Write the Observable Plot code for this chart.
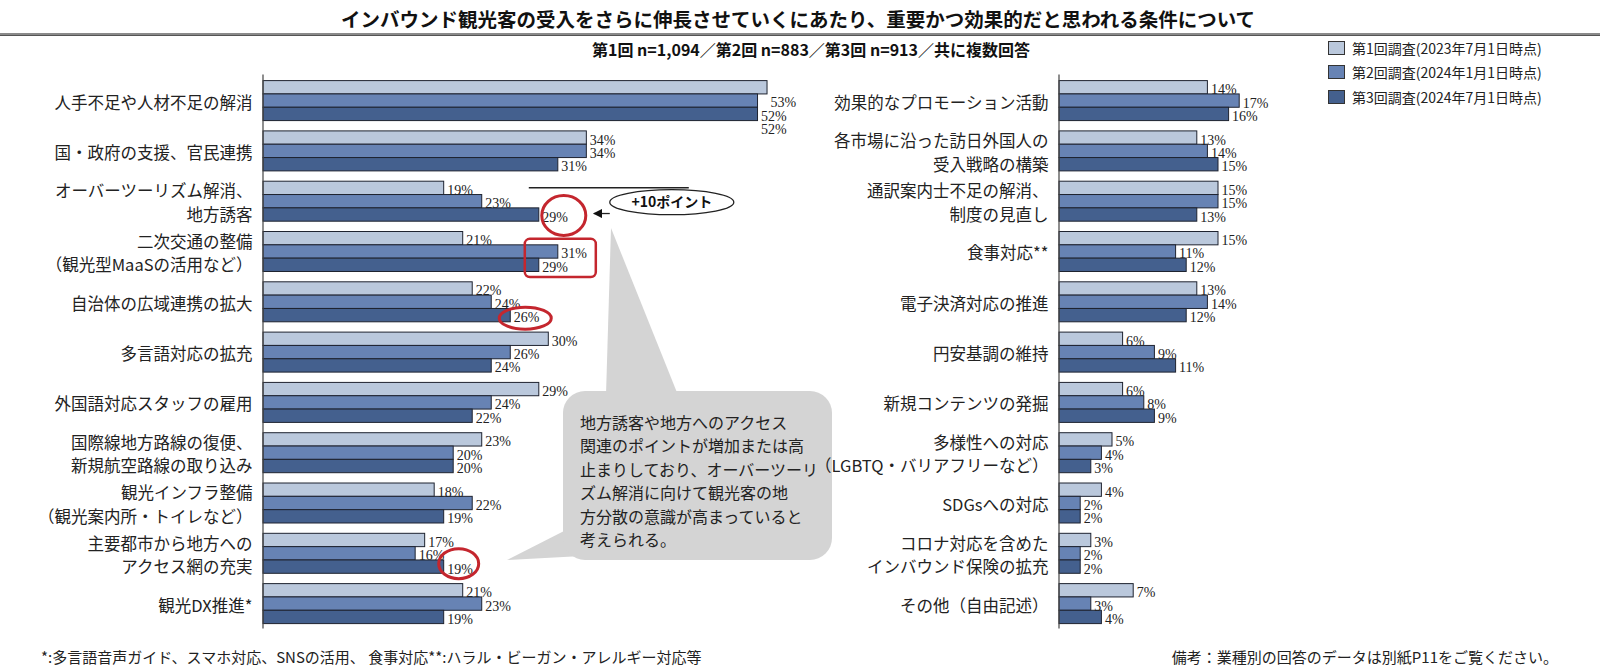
<!DOCTYPE html>
<html><head><meta charset="utf-8">
<script src="https://cdn.jsdelivr.net/npm/d3@7"></script>
<script src="https://cdn.jsdelivr.net/npm/@observablehq/plot@0.6"></script>
<style>
body{margin:0;background:#fff;font-family:"Noto Sans CJK JP",sans-serif;color:#222;}
#root{position:relative;width:1600px;height:667px;overflow:hidden;background:#fff;}
.abs{position:absolute;white-space:nowrap;}
.mid{transform:translateY(-50%);}
.ctr{transform:translate(-50%,-50%);}
#root svg{position:absolute;top:0;}
.sw{position:absolute;width:15px;height:12px;border:1.5px solid #333;}
</style></head><body><div id="root"></div>
<script>
// ---------------- data ----------------
const seriesNames = ["第1回調査(2023年7月1日時点)", "第2回調査(2024年1月1日時点)", "第3回調査(2024年7月1日時点)"];
const seriesColors = ["#bac8dc", "#6783b4", "#44608e"];

const leftCategories = [
  "人手不足や人材不足の解消",
  "国・政府の支援、官民連携",
  "オーバーツーリズム解消、\n地方誘客",
  "二次交通の整備\n（観光型MaaSの活用など）",
  "自治体の広域連携の拡大",
  "多言語対応の拡充",
  "外国語対応スタッフの雇用",
  "国際線地方路線の復便、\n新規航空路線の取り込み",
  "観光インフラ整備\n（観光案内所・トイレなど）",
  "主要都市から地方への\nアクセス網の充実",
  "観光DX推進*"
];
const leftRound1 = [53, 34, 19, 21, 22, 30, 29, 23, 18, 17, 21];
const leftRound2 = [52, 34, 23, 31, 24, 26, 24, 20, 22, 16, 23];
const leftRound3 = [52, 31, 29, 29, 26, 24, 22, 20, 19, 19, 19];

const rightCategories = [
  "効果的なプロモーション活動",
  "各市場に沿った訪日外国人の\n受入戦略の構築",
  "通訳案内士不足の解消、\n制度の見直し",
  "食事対応**",
  "電子決済対応の推進",
  "円安基調の維持",
  "新規コンテンツの発掘",
  "多様性への対応\n（LGBTQ・バリアフリーなど）",
  "SDGsへの対応",
  "コロナ対応を含めた\nインバウンド保険の拡充",
  "その他（自由記述）"
];
const rightRound1 = [14, 13, 15, 15, 13, 6, 6, 5, 4, 3, 7];
const rightRound2 = [17, 14, 15, 11, 14, 9, 8, 4, 2, 2, 3];
const rightRound3 = [16, 15, 13, 12, 12, 11, 9, 3, 2, 2, 4];

const titleText = "インバウンド観光客の受入をさらに伸長させていくにあたり、重要かつ効果的だと思われる条件について";
const subtitleText = "第1回 n=1,094／第2回 n=883／第3回 n=913／共に複数回答";
const footLeft = "*:多言語音声ガイド、スマホ対応、SNSの活用、 食事対応**:ハラル・ビーガン・アレルギー対応等";
const footRight = "備考：業種別の回答のデータは別紙P11をご覧ください。";
const bubbleLines = ["地方誘客や地方へのアクセス", "関連のポイントが増加または高", "止まりしており、オーバーツーリ", "ズム解消に向けて観光客の地", "方分散の意識が高まっていると", "考えられる。"];
const pointLabel = "+10ポイント";

// ---------------- helpers ----------------
const JP = '"Noto Sans CJK JP", sans-serif';
const NUM = '"Liberation Serif", "DejaVu Serif", serif';
const root = document.getElementById("root");

function addText(txt, style, cls) {
  const d = document.createElement("div");
  d.className = "abs " + (cls || "");
  d.textContent = txt;
  Object.assign(d.style, style);
  root.appendChild(d);
  return d;
}

function toRows(cats, vals) {
  const rows = [];
  cats.forEach((c, i) => vals.forEach((v, s) => rows.push({cat: c, series: seriesNames[s], value: v[i], first: i === 0})));
  return rows;
}

function panel({cats, vals, width, marginLeft, xMax, pxPer, offsetFirst}) {
  const rows = toRows(cats, vals);
  const labelOpts = {fy: "cat", y: "series", x: "value", text: d => d.value + "%", dx: 3, textAnchor: "start", fontSize: 14, fontFamily: NUM, fill: "#222"};
  return Plot.plot({
    width, height: 667,
    marginTop: 80.6, marginBottom: 43.4,
    marginLeft, marginRight: width - marginLeft - xMax * pxPer,
    style: {background: "transparent", overflow: "visible", fontFamily: JP},
    x: {domain: [0, xMax], axis: null},
    y: {domain: seriesNames, axis: null, padding: 0, round: false},
    fy: {domain: cats, axis: null, paddingInner: 0.205, paddingOuter: 0, round: false},
    color: {domain: seriesNames, range: seriesColors},
    marks: [
      Plot.barX(rows, {fy: "cat", y: "series", x: "value", fill: "series", stroke: "#1e2330", strokeWidth: 1}),
      Plot.text(rows.filter(d => !(offsetFirst && d.first)), {...labelOpts, dy: 2}),
      offsetFirst ? Plot.text(rows.filter(d => d.first), {...labelOpts, dy: 15}) : null,
      Plot.text(cats, {fy: d => d, text: d => d, frameAnchor: "left", dx: -11, textAnchor: "end", fontSize: 16.5, lineHeight: 1.42, fill: "#222", fontFamily: JP})
    ]
  });
}

function axisLine(plot, cats) {
  const sx = plot.scale("x"), sfy = plot.scale("fy");
  d3.select(plot).append("line")
    .attr("x1", sx.apply(0)).attr("x2", sx.apply(0))
    .attr("y1", sfy.apply(cats[0]) - 6)
    .attr("y2", sfy.apply(cats[cats.length - 1]) + sfy.bandwidth + 5)
    .attr("stroke", "#444").attr("stroke-width", 1.2);
}

// ---------------- header ----------------
addText(titleText, {left: "798px", top: "17.5px", fontSize: "19.5px", fontWeight: "700", color: "#111"}, "ctr");
const rule = document.createElement("div");
rule.className = "abs";
Object.assign(rule.style, {left: "0px", top: "33px", width: "1600px", height: "2px", background: "#8a8a8a", borderBottom: "1px solid #555"});
root.appendChild(rule);
addText(subtitleText, {left: "811px", top: "49px", fontSize: "16px", fontWeight: "700", color: "#111"}, "ctr");

// legend
const legendY = [48, 72, 97];
seriesNames.forEach((n, i) => {
  const b = document.createElement("div");
  b.className = "sw";
  Object.assign(b.style, {left: "1328px", top: (legendY[i] - 7) + "px", background: seriesColors[i]});
  root.appendChild(b);
  addText(n, {left: "1352px", top: legendY[i] + "px", fontSize: "14px", color: "#222"}, "mid");
});

// ---------------- panels ----------------
const leftPlot = panel({cats: leftCategories, vals: [leftRound1, leftRound2, leftRound3], width: 840, marginLeft: 263, xMax: 58, pxPer: 9.51, offsetFirst: true});
leftPlot.style.left = "0px";
root.appendChild(leftPlot);
axisLine(leftPlot, leftCategories);

const rightPlot = panel({cats: rightCategories, vals: [rightRound1, rightRound2, rightRound3], width: 780, marginLeft: 239, xMax: 30, pxPer: 10.6, offsetFirst: false});
rightPlot.style.left = "820px";
root.appendChild(rightPlot);
axisLine(rightPlot, rightCategories);

// ---------------- annotations (left panel) ----------------
{
  const sx = leftPlot.scale("x"), sfy = leftPlot.scale("fy");
  const bw = sfy.bandwidth;
  const barC = (ci, s) => sfy.apply(leftCategories[ci]) + bw * (s + 0.5) / 3;
  const svg = d3.select(leftPlot);
  const g = svg.append("g").attr("text-anchor", "start");
  const red = "#c4262e";

  // speech bubble
  const bub = g.append("g").attr("fill", "#d4d4d4");
  bub.append("path").attr("d", "M611,228 L606,395 L678,395 Z");
  bub.append("path").attr("d", "M507,560 L566,530 L582,556 Z");
  bub.append("rect").attr("x", 563).attr("y", 391).attr("width", 269).attr("height", 169).attr("rx", 22);
  bubbleLines.forEach((t, i) => {
    g.append("text").attr("x", 580).attr("y", 423 + i * 23.5).attr("dy", "0.35em").attr("text-anchor", "start")
      .attr("font-size", 16).attr("font-family", JP).attr("fill", "#222").text(t);
  });

  // red highlights
  const x29 = sx.apply(leftRound3[2]);
  g.append("ellipse").attr("cx", x29 + 25).attr("cy", barC(2, 2) + 1).attr("rx", 22).attr("ry", 20)
    .attr("fill", "none").attr("stroke", red).attr("stroke-width", 3);
  const c4 = sfy.apply(leftCategories[3]);
  const rx0 = sx.apply(leftRound3[3]) - 14, rx1 = sx.apply(leftRound2[3]) + 38;
  g.append("rect").attr("x", rx0).attr("y", c4 + bw / 3 - 6).attr("width", rx1 - rx0).attr("height", bw * 2 / 3 + 11.5)
    .attr("rx", 5).attr("fill", "none").attr("stroke", red).attr("stroke-width", 2.5);
  g.append("ellipse").attr("cx", sx.apply(leftRound3[4]) + 15).attr("cy", barC(4, 2) + 3).attr("rx", 26).attr("ry", 11)
    .attr("fill", "none").attr("stroke", red).attr("stroke-width", 3);
  g.append("ellipse").attr("cx", sx.apply(leftRound3[9]) + 15).attr("cy", barC(9, 2) - 3).attr("rx", 20).attr("ry", 15)
    .attr("fill", "none").attr("stroke", red).attr("stroke-width", 3);

  // +10 point callout
  const ecx = x29 + 133, ecy = barC(2, 1) + 1;
  g.append("line").attr("x1", x29 - 10).attr("x2", ecx + 17).attr("y1", barC(2, 0)).attr("y2", barC(2, 0))
    .attr("stroke", "#222").attr("stroke-width", 1.5);
  svg.append("defs").append("marker").attr("id", "arr").attr("viewBox", "0 0 10 10").attr("refX", 9).attr("refY", 5)
    .attr("markerWidth", 7).attr("markerHeight", 7).attr("orient", "auto")
    .append("path").attr("d", "M0,0 L10,5 L0,10 Z").attr("fill", "#111");
  g.append("line").attr("x1", ecx - 62).attr("x2", x29 + 55).attr("y1", barC(2, 2) - 1).attr("y2", barC(2, 2) - 1)
    .attr("stroke", "#222").attr("stroke-width", 1.3).attr("marker-end", "url(#arr)");
  g.append("ellipse").attr("cx", ecx).attr("cy", ecy).attr("rx", 62).attr("ry", 12.5)
    .attr("fill", "#fff").attr("stroke", "#222").attr("stroke-width", 1.3);
  g.append("text").attr("x", ecx).attr("y", ecy).attr("dy", "0.35em").attr("text-anchor", "middle")
    .attr("font-size", 14).attr("font-weight", 700).attr("font-family", JP).attr("fill", "#111").text(pointLabel);
}

// ---------------- footer ----------------
addText(footLeft, {left: "41px", top: "656px", fontSize: "15px", color: "#222"}, "mid");
addText(footRight, {right: "42px", top: "656px", fontSize: "15px", color: "#222"}, "mid");
</script></body></html>
